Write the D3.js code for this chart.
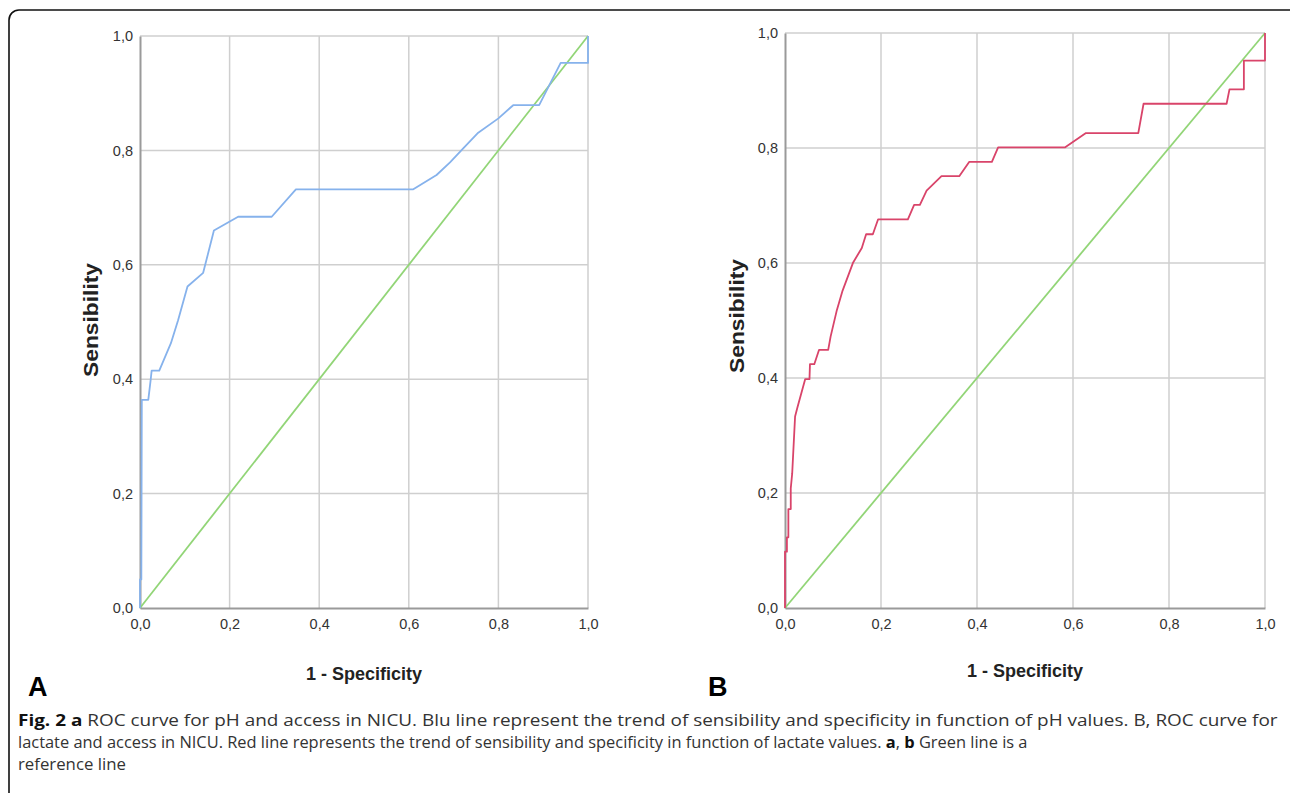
<!DOCTYPE html>
<html>
<head>
<meta charset="utf-8">
<script src="https://cdn.jsdelivr.net/npm/d3@7"></script>
<style>
  body { margin: 0; background: #fff; }
  svg { display: block; }
</style>
</head>
<body>
<svg id="chart" width="1290" height="793"></svg>
<script>
const tickValues = [0, 0.2, 0.4, 0.6, 0.8, 1.0];
const tickLabels = ['0,0', '0,2', '0,4', '0,6', '0,8', '1,0'];

// panel A: pH (blue)
const fprA = [0, 0, 0.003, 0.004, 0.0185, 0.024, 0.026, 0.043, 0.069, 0.085, 0.106, 0.141, 0.165, 0.219, 0.294, 0.348, 0.610, 0.662, 0.692, 0.722, 0.755, 0.800, 0.833, 0.891, 0.939, 1.0, 1.0];
const tprA = [0, 0.05, 0.05, 0.364, 0.364, 0.40, 0.415, 0.415, 0.463, 0.503, 0.562, 0.586, 0.660, 0.684, 0.684, 0.732, 0.732, 0.757, 0.779, 0.804, 0.831, 0.856, 0.879, 0.879, 0.953, 0.953, 1.0];

// panel B: lactate (red)
const fprB = [0, 0, 0.004, 0.004, 0.007, 0.007, 0.012, 0.012, 0.015, 0.021, 0.026, 0.042, 0.051, 0.052, 0.061, 0.071, 0.090, 0.095, 0.108, 0.120, 0.142, 0.160, 0.169, 0.183, 0.194, 0.256, 0.269, 0.281, 0.295, 0.326, 0.363, 0.384, 0.431, 0.444, 0.583, 0.627, 0.736, 0.747, 0.920, 0.926, 0.956, 0.956, 1.0, 1.0];
const tprB = [0, 0.098, 0.098, 0.123, 0.123, 0.172, 0.172, 0.208, 0.234, 0.333, 0.349, 0.398, 0.398, 0.424, 0.424, 0.449, 0.449, 0.472, 0.518, 0.552, 0.601, 0.626, 0.650, 0.650, 0.676, 0.676, 0.701, 0.701, 0.726, 0.751, 0.751, 0.776, 0.776, 0.801, 0.801, 0.826, 0.826, 0.877, 0.877, 0.902, 0.902, 0.952, 0.952, 1.0];

const refX = [0, 1];
const refY = [0, 1];

const svg = d3.select('#chart');

// outer frame
svg.append('rect')
  .attr('x', 9).attr('y', 10)
  .attr('width', 1300).attr('height', 820)
  .attr('rx', 10)
  .attr('fill', 'none')
  .attr('stroke', '#111')
  .attr('stroke-width', 1.6);

function panel(opts) {
  const x = d3.scaleLinear().domain([0, 1]).range([opts.left, opts.right]);
  const y = d3.scaleLinear().domain([0, 1]).range([opts.bottom, opts.top]);
  const g = svg.append('g');

  // grid
  g.selectAll('.vg').data(tickValues.slice(1)).enter().append('line')
    .attr('x1', d => x(d)).attr('x2', d => x(d))
    .attr('y1', y(0)).attr('y2', y(1))
    .attr('stroke', '#cfcfcf').attr('stroke-width', 1.5);
  g.selectAll('.hg').data(tickValues.slice(1)).enter().append('line')
    .attr('x1', x(0)).attr('x2', x(1))
    .attr('y1', d => y(d)).attr('y2', d => y(d))
    .attr('stroke', '#cfcfcf').attr('stroke-width', 1.5);

  // axes
  const fmt = d => tickLabels[tickValues.indexOf(d)];
  const xa = g.append('g').attr('transform', `translate(0,${y(0)})`)
    .call(d3.axisBottom(x).tickValues(tickValues).tickFormat(fmt).tickSize(0).tickPadding(11));
  const ya = g.append('g').attr('transform', `translate(${x(0)},0)`)
    .call(d3.axisLeft(y).tickValues(tickValues).tickFormat(fmt).tickSize(0).tickPadding(7));
  [xa, ya].forEach(a => {
    a.select('.domain').attr('stroke', '#9a9a9a').attr('stroke-width', 2);
    a.selectAll('text')
      .attr('font-family', 'Liberation Sans, Arial, sans-serif')
      .attr('font-size', 14.5)
      .attr('fill', '#333');
  });

  // reference diagonal
  const line = d3.line().x(d => x(d[0])).y(d => y(d[1]));
  g.append('path')
    .datum(d3.zip(refX, refY))
    .attr('d', line)
    .attr('fill', 'none')
    .attr('stroke', '#92d577')
    .attr('stroke-width', 1.8);

  // ROC curve
  g.append('path')
    .datum(d3.zip(opts.fpr, opts.tpr))
    .attr('d', line)
    .attr('fill', 'none')
    .attr('stroke', opts.color)
    .attr('stroke-width', 1.8)
    .attr('stroke-linejoin', 'round');

  // axis titles
  g.append('text')
    .attr('x', (opts.left + opts.right) / 2 - 58)
    .attr('y', opts.xTitleY)
    .attr('font-family', 'Liberation Sans Narrow, Liberation Sans, Arial, sans-serif')
    .attr('font-weight', 'bold')
    .attr('font-size', 19)
    .attr('textLength', 116)
    .attr('lengthAdjust', 'spacingAndGlyphs')
    .attr('fill', '#222')
    .text('1 - Specificity');
  g.append('text')
    .attr('transform', `translate(${opts.yTitleX},${opts.yTitleY + 57}) rotate(-90)`)
    .attr('dy', '0.35em')
    .attr('font-family', 'Liberation Sans Narrow, Liberation Sans, Arial, sans-serif')
    .attr('font-weight', 'bold')
    .attr('font-size', 20)
    .attr('textLength', 114)
    .attr('lengthAdjust', 'spacingAndGlyphs')
    .attr('fill', '#222')
    .text('Sensibility');

  // panel letter
  g.append('text')
    .attr('x', opts.letterX).attr('y', 696)
    .attr('font-family', 'Liberation Sans, Arial, sans-serif')
    .attr('font-weight', 'bold')
    .attr('font-size', 27)
    .attr('fill', '#000')
    .text(opts.letter);
}

panel({ left: 140, right: 588, top: 36, bottom: 608, fpr: fprA, tpr: tprA, color: '#86b2ec',
  xTitleY: 680, yTitleX: 91, yTitleY: 320, letter: 'A', letterX: 28 });
panel({ left: 785, right: 1265, top: 33, bottom: 608, fpr: fprB, tpr: tprB, color: '#d9446a',
  xTitleY: 677, yTitleX: 737, yTitleY: 316, letter: 'B', letterX: 708 });

// caption: each line squeezed horizontally to the width it has in the figure
const cap = svg.append('g')
  .attr('font-family', 'Open Sans, Noto Sans, sans-serif')
  .attr('font-size', 16.5)
  .attr('fill', '#333');

function capLine(y, width, parts) {
  const gl = cap.append('g');
  const t = gl.append('text').attr('x', 0).attr('y', 0);
  parts.forEach(p => {
    const s = t.append('tspan').text(p[0]);
    if (p[1]) s.attr('font-weight', 'bold').attr('fill', '#111');
  });
  const w = t.node().getComputedTextLength();
  gl.attr('transform', `translate(18,${y}) scale(${width / w},1)`);
}

capLine(726, 1260, [
  ['Fig. 2 a', true],
  [' ROC curve for pH and access in NICU. Blu line represent the trend of sensibility and specificity in function of pH values. B, ROC curve for']
]);
capLine(748, 1010, [
  ['lactate and access in NICU. Red line represents the trend of sensibility and specificity in function of lactate values. '],
  ['a', true], [', '], ['b', true], [' Green line is a']
]);
capLine(770, 108, [['reference line']]);
</script>
</body>
</html>
